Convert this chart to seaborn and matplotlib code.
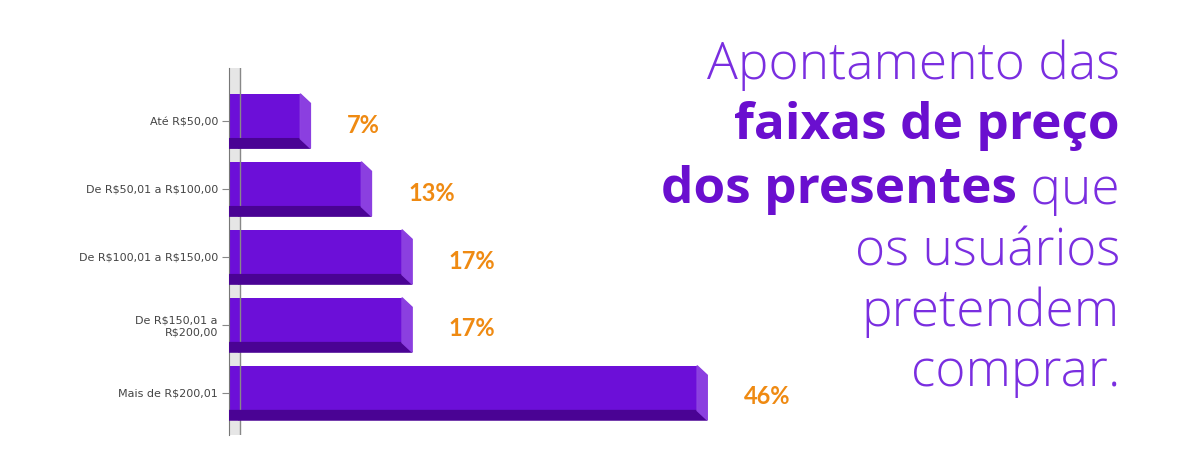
import matplotlib
matplotlib.use("Agg")
import matplotlib.pyplot as plt
import seaborn as sns
import pandas as pd
from matplotlib.patches import Polygon

categories = ["Até R$50,00", "De R$50,01 a R$100,00", "De R$100,01 a R$150,00",
              "De R$150,01 a\nR$200,00", "Mais de R$200,01"]
values = [7, 13, 17, 17, 46]
labels = ["7%", "13%", "17%", "17%", "46%"]

PURPLE = "#6c0fd8"
DARK = "#4a0394"
SIDE = "#8b3fe0"
ORANGE = "#ef8a12"

df = pd.DataFrame({"cat": categories, "val": values})
fig = plt.figure(figsize=(12, 4.5), dpi=100)
fig.patch.set_facecolor("white")
ax = fig.add_axes([229/1200, 1-435/450, 580/1200, 367/450])
sns.barplot(data=df, y="cat", x="val", orient="h", color=PURPLE, width=0.8,
            saturation=1, ax=ax, edgecolor="none")
ax.set_xlim(0, 57)
ax.set_ylim(4.62, -0.78)
dx, dy = 1.0, 0.14
for p, v, lab in zip(ax.patches, values, labels):
    x0, y0 = p.get_x(), p.get_y()
    w, h = p.get_width(), p.get_height()
    ax.add_patch(Polygon([(x0, y0+h-dy), (x0+w, y0+h-dy), (x0+w+dx, y0+h), (x0+dx, y0+h)],
                         closed=True, color=DARK, zorder=3))
    ax.add_patch(Polygon([(x0, y0+h-dy), (x0+dx, y0+h), (x0, y0+h)], closed=True, color=DARK, zorder=3))
    ax.add_patch(Polygon([(x0+w, y0), (x0+w+dx, y0+dy), (x0+w+dx, y0+h), (x0+w, y0+h-dy)],
                         closed=True, color=SIDE, zorder=3))
    ax.text(x0+w+dx+3.6, y0+h/2+0.06, lab, color=ORANGE, fontsize=17, fontweight="bold",
            va="center", ha="left", fontfamily="Lato")
ax.axvspan(0.0, 1.0, color="#e6e6e6", zorder=0)
ax.axvline(1.1, color="#888888", lw=1)
for s in ["top", "right", "bottom"]:
    ax.spines[s].set_visible(False)
ax.spines["left"].set_color("#777777")
ax.set_xticks([])
ax.set_xlabel(""); ax.set_ylabel("")
ax.tick_params(axis="y", length=5, color="#888888", labelsize=8, labelcolor="#444444", pad=3)
for lbl in ax.get_yticklabels():
    lbl.set_parse_math(False)

fs = 37
N = "#7a2ee0"; B = "#6a0fcf"
X = 1120/1200
ys = [1-65/450, 1-126/450, 1-190/450, 1-252/450, 1-312/450, 1-372/450]
def t(x, y, s, bold=False):
    return fig.text(x, y, s, ha="right", va="center", fontsize=fs, fontfamily="Open Sans",
                    fontweight="bold" if bold else 300, color=B if bold else N)
t(X, ys[0], "Apontamento das")
t(X, ys[1], "faixas de preço", True)
q = t(X, ys[2], " que")
fig.canvas.draw()
r = fig.canvas.get_renderer()
wq = q.get_window_extent(r).width / 1200
t(X - wq, ys[2], "dos presentes", True)
t(X, ys[3], "os usuários")
t(X, ys[4], "pretendem")
t(X, ys[5], "comprar.")
fig.savefig("out.png", dpi=100)
